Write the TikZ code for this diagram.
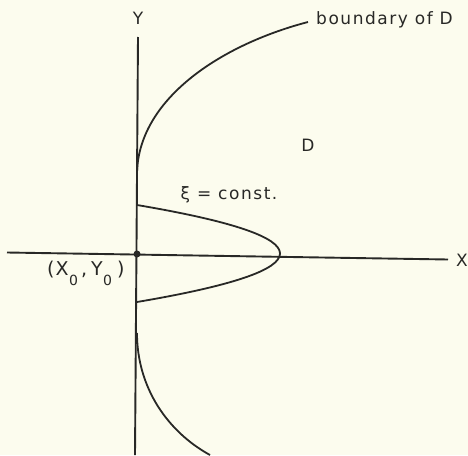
\documentclass[tikz,border=0pt]{standalone}
\usepackage{fontspec}
\setmainfont{DejaVu Sans}[LetterSpace=9]
\definecolor{bg}{RGB}{252,252,238}
\definecolor{ink}{RGB}{40,40,38}
\newcommand{\subo}{\raisebox{-10pt}{\fontsize{14}{14}\selectfont 0}}
\begin{document}
\begin{tikzpicture}[x=1pt,y=-1pt,
  curve/.style={draw=ink,line width=1.8pt},
  axis/.style={draw=ink,line width=1.9pt},
  lab/.style={text=ink,inner sep=0pt,font=\fontsize{17}{17}\selectfont},
  dot/.style={circle,fill=ink,inner sep=0pt,minimum size=7pt}]
\useasboundingbox[fill=bg] (0,0) rectangle (468,455);
% axes
\coordinate (ytop) at (138,37);
\coordinate (ybot) at (135,455);
\coordinate (xl) at (7,252.5);
\coordinate (xr) at (448,259.5);
\draw[axis] (ytop) -- (ybot);
\draw[axis] (xl) -- (xr);
\node[dot] (o) at (137,254) {};
% labels
\node[lab] (Ylab) at (138,18) {Y};
\node[lab] (Xlab) at (462,260) {X};
\node[lab,anchor=base west] (bd) at (316,24) {boundary of D};
\node[lab] (Dlab) at (308,145) {D};
\node[lab] (xi) at (229,195) {ξ = const.};
\node[lab,anchor=base west] (x0) at (47,275) {\addfontfeature{LetterSpace=0}\fontsize{19}{19}\selectfont(\kern1pt X\kern0.5pt\subo\kern3pt,\kern4pt Y\kern0.5pt\subo\kern5pt)};
% boundary of D
\coordinate (ua) at (137,175);
\coordinate (ub) at (308,22);
\draw[curve] (ua) .. controls (137,100) and (220,45) .. (ub);
\coordinate (la) at (137,333);
\coordinate (lb) at (210,455);
\draw[curve] (la) .. controls (137,388) and (168,432) .. (lb);
% xi = const
\coordinate (pa) at (137,205);
\coordinate (pb) at (137,302);
\draw[curve] (pa) .. controls (327.7,237.3) and (327.7,269.7) .. (pb);
\end{tikzpicture}
\end{document}
